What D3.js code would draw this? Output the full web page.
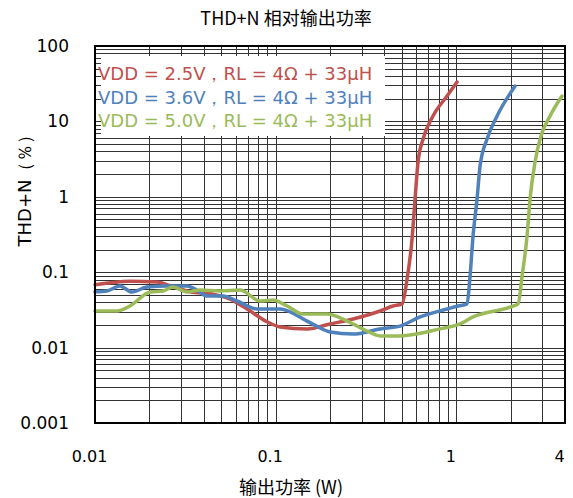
<!DOCTYPE html>
<html>
<head>
<meta charset="utf-8">
<script src="https://cdn.jsdelivr.net/npm/d3@7"></script>
<style>
  body { margin: 0; background: #fff; }
  .grid line { stroke: #333; stroke-width: 1; shape-rendering: crispEdges; }
  .grid path { display: none; }
</style>
</head>
<body>
<div class="canvas"></div>
<script>
// power (W) / THD+N (%)
const red25x = [0.01, 0.0156, 0.022, 0.027, 0.0336, 0.045, 0.0559, 0.0695, 0.0896, 0.1058, 0.1493, 0.2001, 0.2683, 0.3785, 0.4467, 0.501, 0.5342, 0.5692, 0.5914, 0.6145, 0.6551, 0.7436, 0.8892, 1.01];
const red25y = [0.068, 0.076, 0.074, 0.064, 0.055, 0.051, 0.044, 0.0325, 0.022, 0.0188, 0.0177, 0.0206, 0.024, 0.0306, 0.0356, 0.038, 0.081, 0.275, 0.935, 2.9, 5.84, 11.8, 21.7, 33.3];

const blue36x = [0.01, 0.01165, 0.01375, 0.016, 0.0194, 0.025, 0.0323, 0.0358, 0.0417, 0.0511, 0.0611, 0.0789, 0.1058, 0.1493, 0.2001, 0.2683, 0.3785, 0.4885, 0.6304, 0.8892, 1.0233, 1.1478, 1.1925, 1.2388, 1.3036, 1.3545, 1.481, 1.6826, 2.1172];
const blue36y = [0.055, 0.0564, 0.0656, 0.0546, 0.0637, 0.0656, 0.0656, 0.0599, 0.0483, 0.0483, 0.0415, 0.0325, 0.0325, 0.0225, 0.0161, 0.0151, 0.0177, 0.0193, 0.0255, 0.0325, 0.0356, 0.038, 0.0891, 0.302, 0.935, 2.56, 5.84, 11.8, 29.5];

const green50x = [0.01, 0.0132, 0.0156, 0.0202, 0.0238, 0.027, 0.0323, 0.0381, 0.0492, 0.0635, 0.082, 0.0967, 0.1157, 0.1418, 0.1926, 0.2485, 0.3207, 0.3785, 0.4885, 0.8134, 1.0497, 1.2388, 1.9862, 2.1997, 2.3145, 2.466, 2.5618, 2.7312, 2.9108, 3.3072, 3.85];
const green50y = [0.0306, 0.0306, 0.0356, 0.0546, 0.0564, 0.0637, 0.0546, 0.0581, 0.0564, 0.0581, 0.0415, 0.0428, 0.0356, 0.0279, 0.0279, 0.0225, 0.0166, 0.0143, 0.0143, 0.0177, 0.0206, 0.0255, 0.0345, 0.038, 0.0891, 0.302, 0.935, 2.9, 5.84, 11.8, 21.7];

const seriesNames = ['VDD = 2.5V，RL = 4Ω + 33μH', 'VDD = 3.6V，RL = 4Ω + 33μH', 'VDD = 5.0V，RL = 4Ω + 33μH'];
const seriesColors = ['#C0504D', '#4F81BD', '#9BBB59'];

const xTickValues = [0.01, 0.1, 1, 4];
const xTickLabels = ['0.01', '0.1', '1', '4'];
const yTickValues = [100, 10, 1, 0.1, 0.01, 0.001];
const yTickLabels = ['100', '10', '1', '0.1', '0.01', '0.001'];

const chartTitle = 'THD+N 相对输出功率';
const xTitle = '输出功率 (W)';
const yTitle = 'THD+N（％）';

const margin = { top: 46, right: 8, bottom: 75, left: 95 };
const width = 573, height = 498;
const graphWidth = width - margin.left - margin.right;
const graphHeight = height - margin.top - margin.bottom;

const svg = d3.select('.canvas')
  .append('svg')
   .attr('width', width)
   .attr('height', height);

const graph = svg.append('g')
  .attr('transform', `translate(${margin.left}, ${margin.top})`);

const x = d3.scaleLog().domain([0.01, 4]).range([0, graphWidth]);
const y = d3.scaleLog().domain([0.001, 100]).range([graphHeight, 0]);

// grid lines (1..9 per decade)
graph.append('g')
  .attr('class', 'grid')
  .attr('transform', `translate(0, ${graphHeight})`)
  .call(d3.axisBottom(x).tickValues(x.ticks()).tickSize(-graphHeight).tickFormat(''));

graph.append('g')
  .attr('class', 'grid')
  .call(d3.axisLeft(y).tickValues(y.ticks()).tickSize(-graphWidth).tickFormat(''));

// curves
const series = [
  { xs: red25x, ys: red25y },
  { xs: blue36x, ys: blue36y },
  { xs: green50x, ys: green50y }
];

const line = d3.line()
  .x(d => x(d[0]))
  .y(d => y(d[1]))
  .curve(d3.curveMonotoneX);

series.forEach((s, i) => {
  graph.append('path')
    .datum(s.xs.map((v, j) => [v, s.ys[j]]))
    .attr('fill', 'none')
    .attr('stroke', seriesColors[i])
    .attr('stroke-width', 3.5)
    .attr('stroke-linejoin', 'round')
    .attr('stroke-linecap', 'round')
    .attr('d', line);
});

// plot border
graph.append('rect')
  .attr('width', graphWidth)
  .attr('height', graphHeight)
  .attr('fill', 'none')
  .attr('stroke', '#000')
  .attr('stroke-width', 2);

// legend
graph.append('rect')
  .attr('x', 6)
  .attr('y', 10)
  .attr('width', 284)
  .attr('height', 80)
  .attr('fill', '#fff');

graph.selectAll('.legend')
  .data(seriesNames)
  .enter().append('text')
   .attr('x', 3)
   .attr('y', (d, i) => 34 + i * 23.5)
   .attr('fill', (d, i) => seriesColors[i])
   .attr('font-family', 'DejaVu Sans')
   .attr('font-size', '18px')
   .text(d => d);

// axes labels
const xAxis = d3.axisBottom(x)
  .tickValues(xTickValues)
  .tickFormat((d, i) => xTickLabels[i])
  .tickSize(0)
  .tickPadding(28);

const xAxisGroup = graph.append('g')
  .attr('transform', `translate(-6, ${graphHeight})`)
  .call(xAxis);

const yAxis = d3.axisLeft(y)
  .tickValues(yTickValues)
  .tickFormat((d, i) => yTickLabels[i])
  .tickSize(0)
  .tickPadding(26);

const yAxisGroup = graph.append('g')
  .call(yAxis);

xAxisGroup.select('.domain').remove();
yAxisGroup.select('.domain').remove();

xAxisGroup.selectAll('text')
  .attr('font-family', 'DejaVu Sans')
  .attr('font-size', '16px')
  .attr('fill', '#000');
yAxisGroup.selectAll('text')
  .attr('font-family', 'DejaVu Sans')
  .attr('font-size', '17px')
  .attr('fill', '#000');

// titles
svg.append('text')
  .attr('x', 286)
  .attr('y', 25)
  .attr('text-anchor', 'middle')
  .attr('font-family', 'Noto Sans CJK SC')
  .attr('font-size', '18px')
  .text(chartTitle);

svg.append('text')
  .attr('x', 291)
  .attr('y', 494)
  .attr('text-anchor', 'middle')
  .attr('font-family', 'Noto Sans CJK SC')
  .attr('font-size', '18px')
  .text(xTitle);

svg.append('text')
  .attr('transform', 'translate(31, 186) rotate(-90)')
  .attr('text-anchor', 'middle')
  .attr('font-family', 'DejaVu Sans')
  .attr('font-size', '18px')
  .text(yTitle);
</script>
</body>
</html>
